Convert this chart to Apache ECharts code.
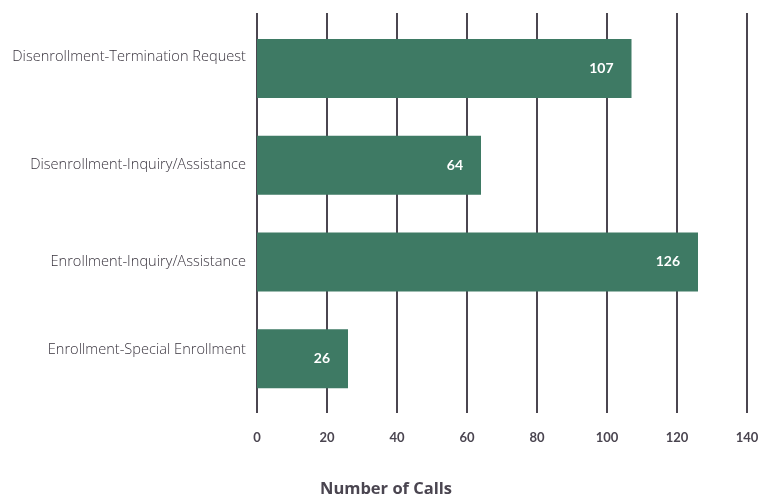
<!DOCTYPE html>
<html>
<head>
<meta charset="utf-8">
<style>
  html, body { margin: 0; padding: 0; background: #ffffff; }
  #chart { width: 772px; height: 495px; }
</style>
<script src="https://cdn.jsdelivr.net/npm/echarts@6/dist/echarts.min.js"></script>
</head>
<body>
<div id="chart"></div>
<script>
// Call reasons and their counts
var categories = [
  'Disenrollment-Termination Request',
  'Disenrollment-Inquiry/Assistance',
  'Enrollment-Inquiry/Assistance',
  'Enrollment-Special Enrollment'
];
var calls = [107, 64, 126, 26];
var xTicks = [0, 20, 40, 60, 80, 100, 120, 140];

var xMin = xTicks[0];
var xMax = xTicks[xTicks.length - 1];
var xStep = xTicks[1] - xTicks[0];

var chart = echarts.init(document.getElementById('chart'), null, { renderer: 'canvas' });

var labelFont = '"Open Sans", Lato, sans-serif';
var numFont = 'Lato, "Open Sans", sans-serif';
var lineColor = '#4b4650';

// vertical lift (px) of each category label above its bar centre
var labelLift = [12, 0, 0, 9];
var catRich = {};
labelLift.forEach(function (lift, i) {
  catRich['c' + i] = {
    fontFamily: labelFont, fontSize: 14.6, fontWeight: 300, color: '#38333d',
    padding: [0, 0, lift * 2, 0]
  };
});

chart.setOption({
  animation: false,
  grid: [
    // bars
    { left: 257, width: 490, top: 20, height: 387 },
    // full-height gridlines and tick labels
    { left: 257, width: 490, top: 13, height: 400 }
  ],
  title: {
    text: 'Number of Calls',
    left: 'center',
    top: 476,
    textStyle: { fontFamily: labelFont, fontSize: 16.5, fontWeight: 'bold', color: '#4a4550' }
  },
  xAxis: [
    {
      gridIndex: 0, type: 'value', min: xMin, max: xMax, interval: xStep,
      show: false
    },
    {
      gridIndex: 1, type: 'value', min: xMin, max: xMax, interval: xStep,
      axisLine: { show: false },
      axisTick: { show: false },
      splitLine: { show: true, lineStyle: { color: lineColor, width: 2 } },
      axisLabel: {
        margin: 18,
        fontFamily: numFont, fontSize: 13, fontWeight: 'bold', color: '#4a4550',
        formatter: function (v) { return xTicks.indexOf(v) >= 0 ? String(v) : ''; }
      }
    }
  ],
  yAxis: [
    {
      gridIndex: 0, type: 'category', data: categories, inverse: true,
      axisLine: { show: false },
      axisTick: { show: false },
      splitLine: { show: false },
      axisLabel: {
        margin: 11,
        formatter: function (v, i) { return '{c' + i + '|' + v + '}'; },
        rich: catRich
      }
    },
    {
      gridIndex: 1, type: 'value', show: false
    }
  ],
  series: [
    {
      type: 'bar',
      xAxisIndex: 0,
      yAxisIndex: 0,
      data: calls,
      barWidth: 59,
      itemStyle: { color: '#3e7a64' },
      label: {
        show: true,
        position: 'insideRight',
        distance: 18,
        fontFamily: numFont,
        fontSize: 14,
        fontWeight: 'bold',
        color: '#ffffff'
      },
      z: 3
    }
  ]
});
</script>
</body>
</html>
